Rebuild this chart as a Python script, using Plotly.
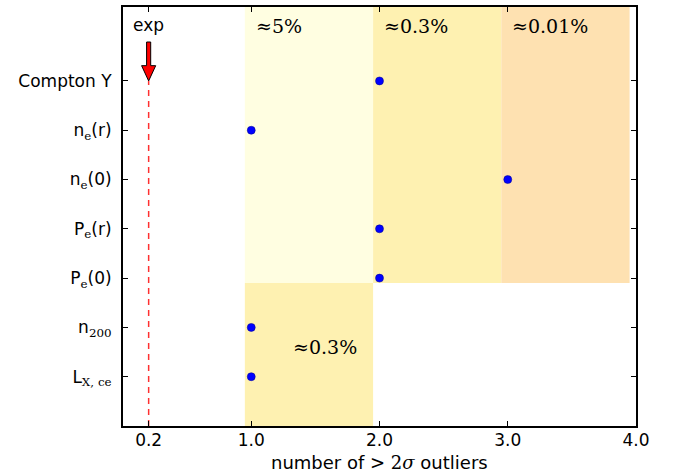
import plotly.graph_objects as go

# ---- data ----
SERIF = "font-family:'DejaVu Serif'"
categories = [f"L<sub><span style=\"{SERIF}\">X, ce</span></sub>",
              f"n<sub><span style=\"{SERIF}\">200</span></sub>",
              f"P<sub><span style=\"{SERIF}\">e</span></sub>(0)",
              f"P<sub><span style=\"{SERIF}\">e</span></sub>(r)",
              f"n<sub><span style=\"{SERIF}\">e</span></sub>(0)",
              f"n<sub><span style=\"{SERIF}\">e</span></sub>(r)",
              "Compton Y"]
outliers = [1, 1, 2, 2, 3, 1, 2]
exp_value = 0.2
x_ticks = [0.2, 1.0, 2.0, 3.0, 4.0]
x_ticklabels = ["0.2", "1.0", "2.0", "3.0", "4.0"]
# probability bands
band_x0 = [0.95, 0.95, 1.95, 2.95]
band_x1 = [1.95, 1.95, 2.95, 3.95]
band_y0 = [1.9, -1.0, 1.9, 1.9]
band_y1 = [7.5, 1.9, 7.5, 7.5]
band_labels = ["≈5%", "≈0.3%", "≈0.3%", "≈0.01%"]
band_colors = ["#FFFEE1", "#FEF1B1", "#FEF1B1", "#FEE1B1"]
label_x = [1.02, 1.31, 2.02, 3.02]
label_y = [7.12, 0.6, 7.12, 7.12]

yidx = list(range(len(categories)))

fig = go.Figure()

shapes = []
for x0, x1, y0, y1, c in zip(band_x0, band_x1, band_y0, band_y1, band_colors):
    shapes.append(dict(type="rect", xref="x", yref="y", x0=x0, x1=x1, y0=y0, y1=y1,
                       fillcolor=c, line=dict(width=0), layer="below"))

# arrow at exp value
top = yidx[-1]
hw, sw = 0.055, 0.016
hb, st = top + 0.31, top + 0.79
path = (f"M {exp_value - sw} {st} L {exp_value + sw} {st} L {exp_value + sw} {hb} "
        f"L {exp_value + hw} {hb} L {exp_value} {top} L {exp_value - hw} {hb} "
        f"L {exp_value - sw} {hb} Z")
shapes.append(dict(type="path", xref="x", yref="y", path=path, fillcolor="#FF0000",
                   line=dict(color="black", width=1), layer="above"))

fig.add_trace(go.Scatter(x=[exp_value, exp_value], y=[-1, top], mode="lines",
                         line=dict(color="#FF3030", width=1.5, dash="6px,5px"),
                         hoverinfo="skip", showlegend=False))

fig.add_trace(go.Scatter(x=outliers, y=yidx, mode="markers",
                         marker=dict(color="#0000FF", size=8,
                                     line=dict(color="#00008B", width=0.5)),
                         showlegend=False))

annotations = []
for lx, ly, t in zip(label_x, label_y, band_labels):
    annotations.append(dict(x=lx, y=ly, xref="x", yref="y", text=t, showarrow=False,
                            xanchor="left", yanchor="middle",
                            font=dict(family="DejaVu Serif", size=19, color="black")))
annotations.append(dict(x=exp_value, y=7.13, xref="x", yref="y", text="exp",
                        showarrow=False, xanchor="center", yanchor="middle",
                        font=dict(family="DejaVu Sans", size=17, color="black")))
annotations.append(dict(x=0.5, y=-0.088, xref="paper", yref="paper",
                        text=f"number of <span style=\"{SERIF}\">> 2<i>σ</i></span> outliers",
                        showarrow=False, xanchor="center", yanchor="middle",
                        font=dict(family="DejaVu Sans", size=18, color="black")))

fig.update_layout(
    width=680, height=472,
    margin=dict(l=123, r=44, t=7, b=46, autoexpand=False),
    paper_bgcolor="white", plot_bgcolor="white",
    shapes=shapes, annotations=annotations,
    font=dict(family="DejaVu Sans", size=17, color="black"),
)
fig.update_xaxes(range=[0, 4], tickvals=x_ticks, ticktext=x_ticklabels,
                 showgrid=False, zeroline=False, showline=True, linecolor="black",
                 linewidth=2, mirror="allticks", ticks="inside", ticklen=5,
                 tickcolor="black", automargin=False, ticklabelstandoff=-2)
fig.update_yaxes(range=[-1, 7.5], tickvals=yidx, ticktext=categories,
                 showgrid=False, zeroline=False, showline=True, linecolor="black",
                 linewidth=2, mirror="allticks", ticks="inside", ticklen=5,
                 tickcolor="black", ticklabelstandoff=6, automargin=False)

fig.write_html("out.html", config={"displayModeBar": False},
               post_script="document.body.style.margin='0';")
